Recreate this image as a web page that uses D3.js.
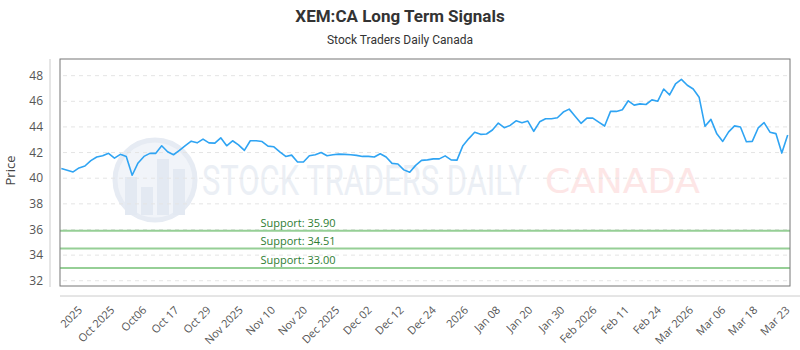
<!DOCTYPE html>
<html>
<head>
<meta charset="utf-8">
<script src="https://cdn.jsdelivr.net/npm/d3@7"></script>
<style>
    body { margin: 0; background: #fff; }
    svg { display: block; font-family: "Open Sans", sans-serif; }
</style>
</head>
<body>
<div id="chart"></div>
<script>
// XEM:CA Long Term Signals - daily closes with support levels

const prices = [
    40.75, 40.62, 40.49, 40.80, 40.95, 41.37, 41.65, 41.75, 41.94, 41.57,
    41.86, 41.70, 40.23, 41.19, 41.70, 41.94, 41.94, 42.53, 42.06, 41.83,
    42.17, 42.55, 42.89, 42.76, 43.05, 42.76, 42.74, 43.15, 42.53, 42.92,
    42.60, 42.17, 42.92, 42.92, 42.86, 42.50, 42.45, 42.06, 41.70, 41.80,
    41.26, 41.26, 41.75, 41.83, 42.00, 41.75, 41.83, 41.88, 41.86, 41.83,
    41.78, 41.70, 41.70, 41.65, 41.91, 41.65, 41.16, 41.11, 40.65, 40.46,
    41.00, 41.39, 41.43, 41.51, 41.51, 41.74, 41.43, 41.41, 42.54, 43.09,
    43.58, 43.42, 43.45, 43.76, 44.30, 43.94, 44.12, 44.48, 44.33, 44.46,
    43.66, 44.40, 44.64, 44.64, 44.72, 45.16, 45.39, 44.84, 44.28, 44.69,
    44.69, 44.38, 44.07, 45.21, 45.21, 45.34, 46.04, 45.70, 45.80, 45.75,
    46.11, 46.01, 46.96, 46.50, 47.35, 47.71, 47.25, 46.96, 46.32, 44.05,
    44.59, 43.46, 42.87, 43.61, 44.08, 44.00, 42.84, 42.87, 43.92, 44.34,
    43.59, 43.48, 41.96, 43.38
];

const tickLabels = [
    '2025', 'Oct 2025', 'Oct06', 'Oct 17', 'Oct 29', 'Nov 2025', 'Nov 10', 'Nov 20',
    'Dec 2025', 'Dec 02', 'Dec 12', 'Dec 24', '2026', 'Jan 08', 'Jan 20', 'Jan 30',
    'Feb 2026', 'Feb 11', 'Feb 24', 'Mar 2026', 'Mar 06', 'Mar 18', 'Mar 23'
];

const yTicks = [32, 34, 36, 38, 40, 42, 44, 46, 48];
const supportLevels = [35.90, 34.51, 33.00];

// Put a styled text at (x, y) squeezed horizontally to the given width
function fitText(parent, x, y, targetWidth, label, font, size, color) {
    const t = parent.append('text')
        .style('font-family', font)
        .style('font-size', size)
        .style('fill', color)
        .text(label);
    const natural = t.node().getComputedTextLength();
    t.attr('transform', `translate(${x},${y}) scale(${targetWidth / natural},1)`);
    return t;
}

function createSignalsChart(containerId) {
    const totalWidth = 800;
    const totalHeight = 350;
    const margin = { top: 59, right: 10, bottom: 64, left: 60 };
    const width = totalWidth - margin.left - margin.right;
    const height = totalHeight - margin.top - margin.bottom;

    const root = d3.select(`#${containerId}`)
        .append('svg')
        .attr('width', totalWidth)
        .attr('height', totalHeight);

    // Title and subtitle
    root.append('text')
        .attr('x', totalWidth / 2)
        .attr('y', 22)
        .attr('text-anchor', 'middle')
        .style('font-family', '"Liberation Sans Narrow", "Roboto", sans-serif')
        .style('font-size', '17px')
        .style('font-weight', 'bold')
        .style('fill', '#333')
        .text('XEM:CA Long Term Signals');

    root.append('text')
        .attr('x', totalWidth / 2)
        .attr('y', 44)
        .attr('text-anchor', 'middle')
        .style('font-family', '"Liberation Sans Narrow", "Roboto", sans-serif')
        .style('font-size', '12px')
        .style('fill', '#333')
        .text('Stock Traders Daily Canada');

    const svg = root.append('g')
        .attr('transform', `translate(${margin.left},${margin.top})`);

    // Scales
    const x = d3.scaleLinear()
        .domain([0, prices.length - 1])
        .range([1.3, width - 2.3]);

    const y = d3.scaleLinear()
        .domain([31.59, 49.3])
        .range([height, 0]);

    const tickX = d3.scalePoint()
        .domain(tickLabels)
        .range([x(3.2), x(prices.length - 1)]);

    // Watermark
    const mark = svg.append('g').attr('class', 'watermark');
    mark.append('circle')
        .attr('cx', 95)
        .attr('cy', 121)
        .attr('r', 40)
        .style('fill', '#f1f4f9')
        .style('stroke', '#e6ebf3')
        .style('stroke-width', 5);
    [[70, 118, 12], [86, 128, 12], [102, 100, 12], [118, 110, 12]].forEach(b => {
        mark.append('rect')
            .attr('x', b[0] - 5)
            .attr('y', b[1])
            .attr('width', b[2])
            .attr('height', 156 - b[1])
            .style('fill', '#e3e9f2');
    });
    fitText(mark, 142, 136, 325, 'STOCK TRADERS DAILY',
        '"Liberation Sans Narrow", "Roboto", sans-serif', '42px', '#ebeff5');
    fitText(mark, 485, 134, 155, 'CANADA',
        '"DejaVu Sans", sans-serif', '34px', '#fde6e6');

    // Grid lines
    svg.append('g')
        .selectAll('line')
        .data(yTicks)
        .enter()
        .append('line')
        .attr('x1', 3)
        .attr('x2', width)
        .attr('y1', d => y(d))
        .attr('y2', d => y(d))
        .style('stroke', '#e4e4e4')
        .style('stroke-width', 1)
        .style('stroke-dasharray', '4,4');

    // Support lines
    const support = svg.append('g').attr('class', 'support');
    support.selectAll('line')
        .data(supportLevels)
        .enter()
        .append('line')
        .attr('x1', 0)
        .attr('x2', width)
        .attr('y1', d => y(d))
        .attr('y2', d => y(d))
        .style('stroke', '#96cf96')
        .style('stroke-width', 2);

    support.selectAll('text')
        .data(supportLevels)
        .enter()
        .append('text')
        .attr('x', 238)
        .attr('y', d => y(d) - 4)
        .attr('text-anchor', 'middle')
        .style('font-size', '11px')
        .style('fill', '#2e7d32')
        .text(d => `Support: ${d.toFixed(2)}`);

    // Price line
    const line = d3.line()
        .x((d, i) => x(i))
        .y(d => y(d));

    svg.append('path')
        .datum(prices)
        .attr('d', line)
        .style('fill', 'none')
        .style('stroke', '#2fa4f3')
        .style('stroke-width', 1.6)
        .style('stroke-linejoin', 'round');

    // Plot frame
    svg.append('rect')
        .attr('x', 0)
        .attr('y', 0)
        .attr('width', width)
        .attr('height', height)
        .style('fill', 'none')
        .style('stroke', '#777')
        .style('stroke-width', 1);

    // Offset axis lines
    svg.append('line')
        .attr('x1', -10).attr('x2', -10)
        .attr('y1', 0).attr('y2', height + 1)
        .style('stroke', '#ccc');
    svg.append('line')
        .attr('x1', 0).attr('x2', width + 10)
        .attr('y1', height + 10).attr('y2', height + 10)
        .style('stroke', '#ccc');

    // Y axis labels
    svg.append('g')
        .selectAll('text')
        .data(yTicks)
        .enter()
        .append('text')
        .attr('x', -17)
        .attr('y', d => y(d))
        .attr('dy', '0.35em')
        .attr('text-anchor', 'end')
        .style('font-size', '12px')
        .style('fill', '#555')
        .text(d => d);

    svg.append('text')
        .attr('transform', 'rotate(-90)')
        .attr('x', -height / 2 + 2)
        .attr('y', -45)
        .attr('text-anchor', 'middle')
        .style('font-size', '13px')
        .style('fill', '#444')
        .text('Price');

    // X axis labels
    svg.append('g')
        .selectAll('text')
        .data(tickLabels)
        .enter()
        .append('text')
        .attr('transform', d => `translate(${tickX(d)},${height + 22}) rotate(-45)`)
        .attr('text-anchor', 'end')
        .attr('dy', '0.35em')
        .style('font-size', '11px')
        .style('fill', '#555')
        .text(d => d);
}

createSignalsChart('chart');
</script>
</body>
</html>
